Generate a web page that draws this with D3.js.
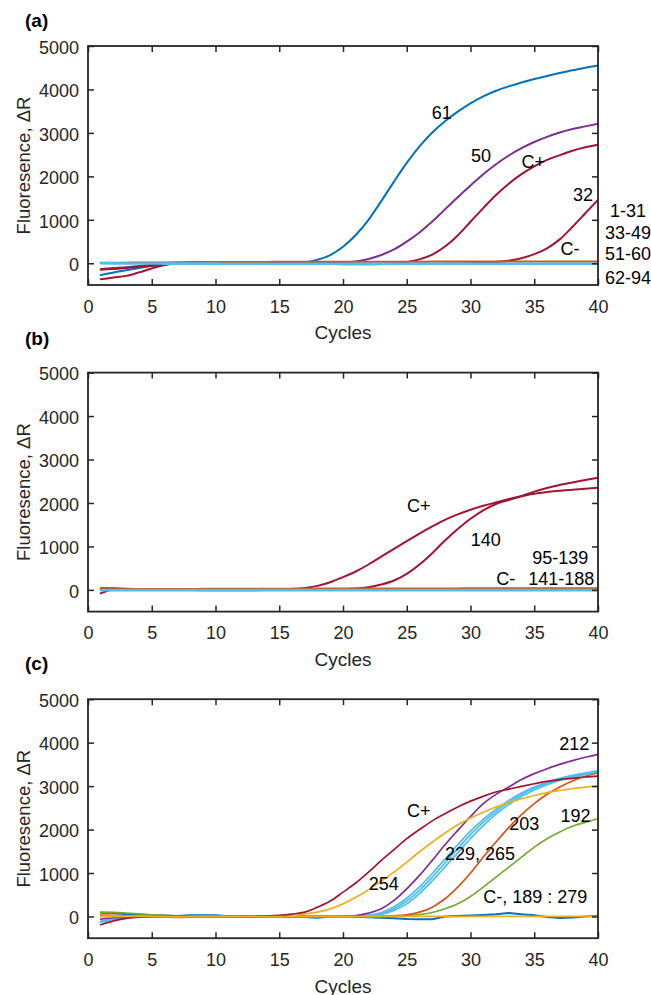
<!DOCTYPE html>
<html>
<head>
<meta charset="utf-8">
<script src="https://cdn.jsdelivr.net/npm/d3@7/dist/d3.min.js"></script>
<style>
  html, body { margin: 0; padding: 0; background: #fff; }
  svg { display: block; }
  text { font-family: "Liberation Sans", Arial, Helvetica, sans-serif; }
</style>
</head>
<body>
<svg id="chart" width="651" height="995"></svg>
<script>
// ---------------- DATA ----------------
const cycles = [1,2,3,4,5,6,7,8,9,10,11,12,13,14,15,16,17,18,19,20,21,22,23,24,25,26,27,28,29,30,31,32,33,34,35,36,37,38,39,40];
const xTicks = [0,5,10,15,20,25,30,35,40];
const yTicks = [0,1000,2000,3000,4000,5000];
const panelLabels = ["(a)", "(b)", "(c)"];
const xTitle = "Cycles";
const yTitle = "Fluoresence, \u0394R";

// Panel (a)
const a_s61  = [-270,-210,-160,-110,-65,-30,0,15,20,20,15,10,5,0,-10,-5,20,80,190,380,650,1000,1430,1880,2310,2690,3010,3270,3490,3680,3840,3970,4070,4160,4240,4310,4380,4440,4500,4550];
const a_s50  = [-130,-110,-90,-60,-35,-10,5,15,20,20,15,10,5,0,-5,-5,-5,0,5,15,40,100,190,320,500,710,960,1240,1520,1790,2050,2280,2480,2650,2790,2910,3010,3090,3150,3210];
const a_cpos = [-370,-330,-290,-210,-120,-40,0,10,15,20,20,20,15,10,5,0,-5,-10,-15,-20,-20,-20,-15,0,30,90,200,385,640,955,1270,1570,1830,2050,2230,2380,2490,2590,2670,2730];
const a_s32  = [-150,-130,-110,-85,-55,-20,0,10,15,20,20,15,10,5,0,-5,-10,-10,-10,-10,-10,-10,-10,-10,-10,-10,-10,-8,-5,0,10,30,60,115,210,345,550,840,1150,1460];
const a_neg1 = [10,12,14,16,18,20,22,24,26,28,30,30,32,32,34,34,34,35,35,35,36,36,36,37,37,37,38,38,38,38,39,39,39,40,40,40,40,40,40,40];
const a_neg2 = [0,-2,-4,-5,-6,-7,-8,-8,-9,-9,-10,-10,-10,-10,-10,-10,-10,-10,-10,-10,-10,-10,-10,-10,-10,-10,-10,-10,-10,-10,-10,-10,-10,-10,-10,-10,-10,-10,-10,-10];

// Panel (b)
const b_cpos = [40,35,28,20,12,5,0,-5,-8,-10,-10,-10,-8,-5,0,20,46,92,177,292,423,584,765,945,1120,1295,1460,1613,1736,1843,1935,2012,2090,2155,2212,2250,2281,2304,2327,2350];
const b_s140 = [-80,0,0,0,0,0,0,0,0,0,0,0,0,0,0,0,0,5,10,15,30,61,123,215,369,584,845,1137,1400,1636,1830,1975,2070,2160,2260,2345,2415,2473,2527,2580];
const b_neg1 = [15,16,17,18,19,20,21,22,23,24,25,26,26,27,27,28,28,29,29,30,30,31,31,32,32,33,33,34,34,35,35,36,36,37,37,38,38,39,39,40];
const b_neg2 = [-5,-5,-5,-5,-5,-5,-5,-5,-5,-5,-5,-5,-5,-5,-5,-5,-5,-5,-5,-5,-5,-5,-5,-5,-5,-5,-5,-5,-5,-5,-5,-5,-5,-5,-5,-5,-5,-5,-5,-5];

// Panel (c)
const c_noisy = [85,80,50,40,30,20,10,30,30,30,5,0,-5,-10,-5,-5,-10,-30,0,0,-5,-20,-30,-40,-60,-65,-65,0,10,20,35,50,80,50,30,-10,-35,-25,0,15];
const c_cpos  = [-190,-100,-45,-15,-5,0,0,0,0,0,0,0,5,10,25,55,100,215,355,560,770,1020,1290,1540,1790,2000,2200,2365,2520,2655,2765,2865,2930,2995,3055,3110,3150,3180,3210,3230];
const c_s254  = [0,0,0,0,-5,-10,-10,-5,0,0,0,0,0,5,10,20,60,100,175,290,445,615,815,1020,1250,1490,1710,1920,2110,2265,2400,2520,2620,2710,2785,2850,2900,2940,2975,3005];
const c_s212  = [-60,-30,-10,0,0,0,0,0,0,0,0,0,0,0,0,0,0,0,0,5,20,77,177,370,637,945,1290,1650,1980,2300,2595,2810,2980,3150,3287,3400,3500,3587,3664,3733];
const c_s229  = [-130,-60,-25,-10,0,0,0,0,0,0,0,0,0,0,0,0,0,0,0,5,12,30,90,225,420,680,990,1320,1650,1965,2235,2470,2672,2842,2978,3090,3180,3248,3300,3352];
const c_s265a = [-120,-55,-22,-8,0,0,0,0,0,0,0,0,0,0,0,0,0,0,0,3,8,20,68,180,355,600,905,1230,1560,1885,2170,2415,2625,2805,2950,3065,3160,3232,3286,3340];
const c_s265b = [-110,-50,-20,-7,0,0,0,0,0,0,0,0,0,0,0,0,0,0,0,2,5,12,48,140,290,525,820,1140,1465,1795,2090,2355,2575,2760,2912,3035,3132,3208,3266,3325];
const c_s203  = [30,25,15,5,0,-10,-20,-10,0,0,0,0,0,0,0,0,0,0,0,0,0,0,5,15,38,100,215,407,676,1000,1367,1713,2043,2343,2596,2811,2980,3118,3226,3303];
const c_s192  = [100,95,80,60,40,25,10,0,0,0,0,0,0,0,0,0,0,0,0,0,0,0,0,5,15,45,92,177,292,460,676,905,1135,1365,1595,1790,1945,2075,2165,2250];
const c_neg   = [0,2,3,3,2,0,-2,0,2,3,2,0,0,-2,-2,0,2,3,2,0,0,-2,0,2,3,2,0,0,-2,0,2,3,4,3,2,2,3,4,4,4];

// annotation texts with their positions in data units [cycle, value]
const a_notes = [["61",27.74,3463],["50",30.82,2465],["C+",34.93,2341],["32",38.82,1574],["C-",37.8,346],
                 ["1-31",42.35,1205],["33-49",42.35,710],["51-60",42.35,214],["62-94",42.35,-327]];
const b_notes = [["C+",25.95,1945],["140",31.2,1144],["95-139",37.04,745],["C-",32.77,254],["141-188",37.12,254]];
const c_notes = [["212",38.13,3979],["C+",25.95,2442],["192",38.24,2327],["203",34.21,2143],["229, 265",30.75,1452],
                 ["254",23.19,753],["C-, 189 : 279",35.08,445]];

// ---------------- STYLE ----------------
const COL = {blue:"#0072BD", orange:"#D95319", yellow:"#EDB120", purple:"#7E2F8E",
             green:"#77AC30", cyan:"#4DBEEE", red:"#A2142F"};

const panels = [
  { label: panelLabels[0], notes: a_notes, titleY: 26.5, w: 2,
    series: [
      {v:a_s61, c:COL.blue}, {v:a_s50, c:COL.purple}, {v:a_cpos, c:COL.red}, {v:a_s32, c:COL.red},
      {v:a_neg1, c:COL.orange}, {v:a_neg2, c:COL.cyan, w:2.6}
    ]},
  { label: panelLabels[1], notes: b_notes, titleY: 345, w: 2,
    series: [
      {v:b_cpos, c:COL.red}, {v:b_s140, c:COL.red},
      {v:b_neg1, c:COL.orange}, {v:b_neg2, c:COL.cyan, w:2.6}
    ]},
  { label: panelLabels[2], notes: c_notes, titleY: 670, w: 1.7,
    series: [
      {v:c_noisy, c:COL.blue, linear:true, w:2},
      {v:c_s192, c:COL.green}, {v:c_s203, c:COL.orange},
      {v:c_s265b, c:COL.cyan}, {v:c_s265a, c:COL.cyan}, {v:c_s229, c:COL.cyan},
      {v:c_s212, c:COL.purple}, {v:c_s254, c:COL.yellow}, {v:c_cpos, c:COL.red},
      {v:c_neg, c:COL.yellow}
    ]}
];

// ---------------- LAYOUT ----------------
const svg = d3.select("#chart");
svg.append("rect").attr("width",651).attr("height",995).attr("fill","#fff");

const left = 88, right = 598, plotH = 239, firstTop = 46, step = 326.6;
const axisCol = "#262626";
const x = d3.scaleLinear().domain([0,40]).range([left,right]);

panels.forEach((p, i) => {
  const top = firstTop + i*step, bottom = top + plotH;
  const y = d3.scaleLinear().domain([-500,5000]).range([bottom, top]);
  const g = svg.append("g");

  // curves
  const clipId = "clip"+i;
  svg.append("clipPath").attr("id", clipId).append("rect")
     .attr("x", left).attr("y", top).attr("width", right-left).attr("height", plotH);
  const lines = g.append("g").attr("clip-path", `url(#${clipId})`);
  p.series.forEach(s => {
    const line = d3.line()
      .x((d,j) => x(cycles[j]))
      .y(d => y(d))
      .curve(s.linear ? d3.curveLinear : d3.curveMonotoneX);
    lines.append("path").datum(s.v)
      .attr("d", line).attr("fill","none")
      .attr("stroke", s.c).attr("stroke-width", s.w || p.w)
      .attr("stroke-linejoin","round").attr("stroke-linecap","round");
  });

  // axes (inward ticks on all sides)
  const fs = 18;
  const xb = g.append("g").attr("transform",`translate(0,${bottom})`)
     .call(d3.axisBottom(x).tickValues(xTicks).tickSize(-6).tickPadding(15).tickFormat(d3.format("d")));
  const xt = g.append("g").attr("transform",`translate(0,${top})`)
     .call(d3.axisTop(x).tickValues(xTicks).tickSize(-6).tickFormat(""));
  const yl = g.append("g").attr("transform",`translate(${left},0)`)
     .call(d3.axisLeft(y).tickValues(yTicks).tickSize(-6).tickPadding(9).tickFormat(d3.format("d")));
  const yr = g.append("g").attr("transform",`translate(${right},0)`)
     .call(d3.axisRight(y).tickValues(yTicks).tickSize(-6).tickFormat(""));
  [xb, xt, yl, yr].forEach(a => {
    a.select(".domain").remove();
    a.selectAll(".tick line").attr("stroke", axisCol).attr("stroke-width", 1.5);
    a.selectAll(".tick text").attr("fill", axisCol).attr("font-size", fs)
      .attr("font-family", '"Liberation Sans", Arial, sans-serif');
  });
  yl.selectAll(".tick text").attr("dy","0.4em");
  g.append("rect").attr("x",left).attr("y",top).attr("width",right-left).attr("height",plotH)
    .attr("fill","none").attr("stroke",axisCol).attr("stroke-width",1.8);

  // axis titles
  g.append("text").attr("x",(left+right)/2).attr("y",bottom+54.3)
    .attr("text-anchor","middle").attr("font-size",19).attr("fill",axisCol).text(xTitle);
  g.append("text").attr("transform",`translate(29.5,${(top+bottom)/2}) rotate(-90)`)
    .attr("text-anchor","middle").attr("font-size",18.5).attr("fill",axisCol).text(yTitle);

  // panel label
  g.append("text").attr("x",25).attr("y",p.titleY).attr("font-size",19)
    .attr("font-weight","bold").attr("fill","#000").text(p.label);

  // annotations
  p.notes.forEach(n => {
    g.append("text").attr("x", x(n[1])).attr("y", y(n[2])).attr("dy","0.35em")
      .attr("text-anchor","middle").attr("font-size",fs).attr("fill","#000").text(n[0]);
  });
});
</script>
</body>
</html>
